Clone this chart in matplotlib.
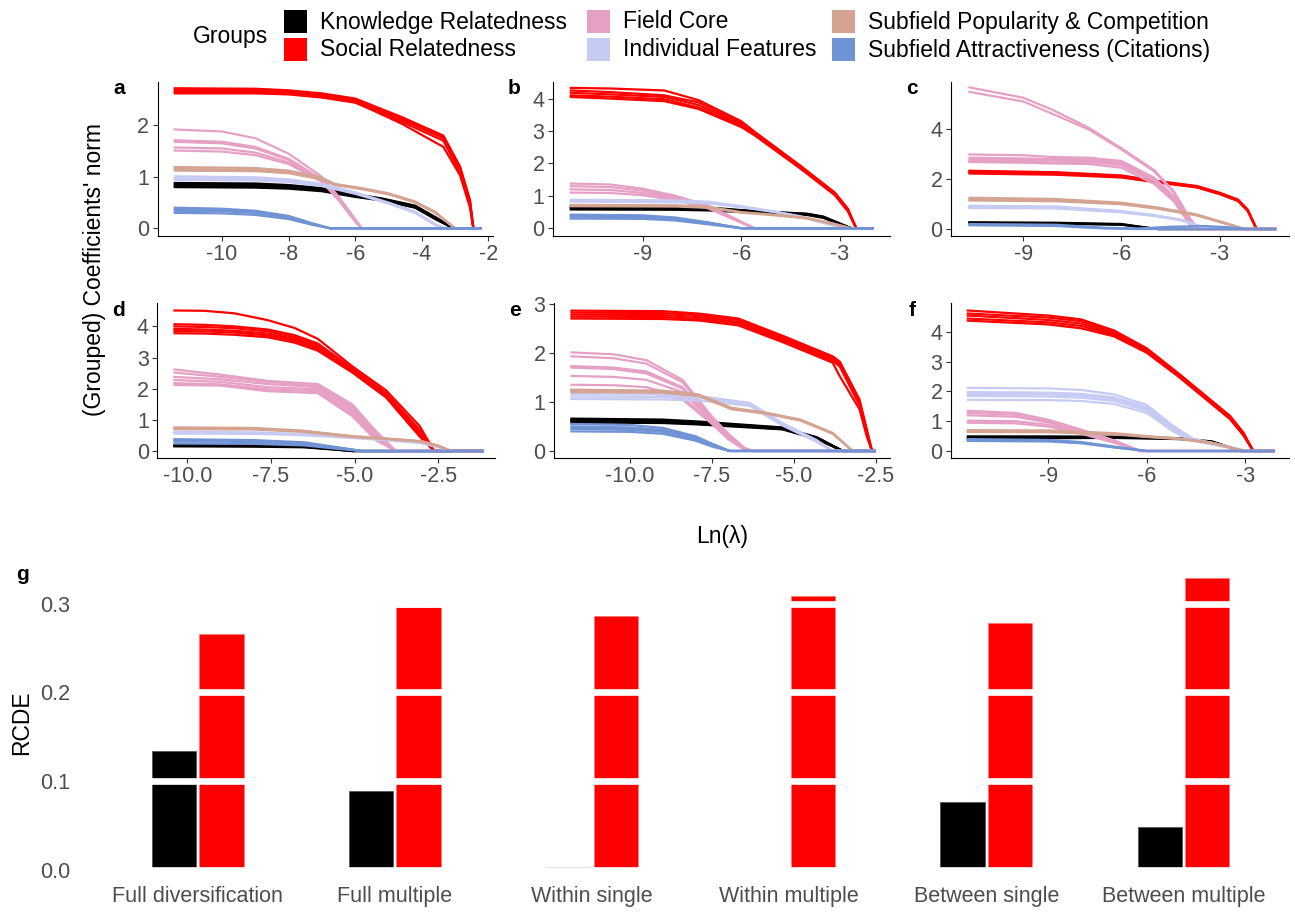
import matplotlib
matplotlib.use("Agg")
import matplotlib.pyplot as plt
from matplotlib.patches import Rectangle

plt.rcParams['font.family'] = ['Liberation Sans', 'DejaVu Sans']
plt.rcParams['axes.unicode_minus'] = False

# * ----- Groups / colours ----------------------------------------------------
GROUPS = ["Knowledge Relatedness", "Social Relatedness", "Field Core",
          "Individual Features", "Subfield Popularity & Competition",
          "Subfield Attractiveness (Citations)"]
COLORS = ["#000000", "#FF0000", "#E6A0C6", "#C6CBF3", "#D4A392", "#7093D6"]

# * ----- Lasso paths: (x knots, [y per line]) per panel and group -----------
# panel a
a_kr = ([-11.45, -9, -8, -7, -6, -5.2, -4.2, -3.6, -3.05, -2.2],
        [[0.88, 0.87, 0.84, 0.78, 0.66, 0.58, 0.44, 0.22, 0, 0],
         [0.85, 0.84, 0.82, 0.76, 0.64, 0.57, 0.43, 0.21, 0, 0],
         [0.82, 0.81, 0.79, 0.74, 0.62, 0.55, 0.41, 0.19, 0, 0],
         [0.80, 0.79, 0.77, 0.72, 0.61, 0.54, 0.40, 0.18, 0, 0]])
a_sr = ([-11.45, -9, -8, -7, -6, -4.6, -3.35, -2.85, -2.55, -2.45, -2.2],
        [[2.72, 2.71, 2.68, 2.62, 2.52, 2.16, 1.80, 1.20, 0.55, 0, 0],
         [2.69, 2.68, 2.66, 2.60, 2.50, 2.14, 1.78, 1.17, 0.52, 0, 0],
         [2.66, 2.65, 2.63, 2.57, 2.47, 2.11, 1.75, 1.13, 0.48, 0, 0],
         [2.62, 2.62, 2.60, 2.54, 2.44, 2.07, 1.70, 1.08, 0.45, 0, 0],
         [2.65, 2.64, 2.62, 2.55, 2.45, 2.03, 1.58, 1.03, 0.40, 0, 0]])
a_fc = ([-11.45, -10, -9, -8, -7, -6.5, -6.0, -5.8, -2.2],
        [[1.92, 1.88, 1.75, 1.45, 1.00, 0.62, 0.18, 0, 0],
         [1.71, 1.68, 1.58, 1.35, 0.95, 0.58, 0.15, 0, 0],
         [1.68, 1.65, 1.55, 1.33, 0.93, 0.57, 0.14, 0, 0],
         [1.57, 1.55, 1.47, 1.28, 0.92, 0.56, 0.14, 0, 0],
         [1.51, 1.49, 1.42, 1.25, 0.90, 0.55, 0.13, 0, 0]])
a_ind = ([-11.45, -9, -8, -7, -6, -5, -4.2, -3.6, -3.3, -2.2],
         [[1.01, 0.99, 0.95, 0.86, 0.70, 0.50, 0.32, 0.08, 0, 0],
          [0.97, 0.96, 0.92, 0.84, 0.68, 0.49, 0.31, 0.07, 0, 0],
          [0.94, 0.93, 0.90, 0.82, 0.67, 0.48, 0.30, 0.06, 0, 0]])
a_pop = ([-11.45, -9, -8, -7, -6.6, -5.8, -5, -4.2, -3.6, -3.0, -2.2],
         [[1.19, 1.17, 1.12, 0.98, 0.86, 0.78, 0.68, 0.52, 0.32, 0, 0],
          [1.15, 1.14, 1.10, 0.96, 0.85, 0.77, 0.67, 0.51, 0.31, 0, 0],
          [1.12, 1.11, 1.07, 0.95, 0.84, 0.76, 0.66, 0.50, 0.30, 0, 0]])
a_att = ([-11.45, -10, -9, -8, -7.3, -6.75, -2.2],
         [[0.40, 0.38, 0.34, 0.24, 0.10, 0, 0],
          [0.37, 0.35, 0.32, 0.22, 0.09, 0, 0],
          [0.34, 0.33, 0.30, 0.21, 0.08, 0, 0],
          [0.30, 0.29, 0.26, 0.18, 0.07, 0, 0]])

# panel b
b_kr = ([-11.23, -8, -7, -6, -5, -4, -3.5, -3, -2.65, -1.97],
        [[0.68, 0.67, 0.64, 0.56, 0.50, 0.45, 0.36, 0.15, 0, 0],
         [0.65, 0.64, 0.62, 0.55, 0.49, 0.44, 0.35, 0.14, 0, 0],
         [0.62, 0.61, 0.59, 0.53, 0.48, 0.43, 0.34, 0.13, 0, 0],
         [0.58, 0.57, 0.55, 0.50, 0.46, 0.41, 0.32, 0.12, 0, 0]])
b_sr = ([-11.23, -10, -8.35, -7.3, -6, -5.6, -4.2, -3.15, -2.75, -2.5, -1.97],
        [[4.33, 4.31, 4.25, 3.95, 3.30, 2.98, 1.93, 1.10, 0.60, 0, 0],
         [4.25, 4.20, 4.10, 3.88, 3.25, 2.95, 1.91, 1.08, 0.57, 0, 0],
         [4.18, 4.13, 4.05, 3.80, 3.20, 2.92, 1.88, 1.06, 0.55, 0, 0],
         [4.10, 4.06, 3.98, 3.72, 3.15, 2.89, 1.86, 1.04, 0.53, 0, 0],
         [4.05, 4.00, 3.92, 3.68, 3.12, 2.87, 1.84, 1.02, 0.52, 0, 0]])
b_fc = ([-11.23, -10, -9, -8, -7, -6.3, -5.6, -1.97],
        [[1.38, 1.35, 1.22, 1.00, 0.70, 0.35, 0, 0],
         [1.30, 1.27, 1.16, 0.96, 0.67, 0.33, 0, 0],
         [1.20, 1.18, 1.09, 0.91, 0.64, 0.32, 0, 0],
         [1.10, 1.09, 1.02, 0.86, 0.61, 0.30, 0, 0]])
b_ind = ([-11.23, -8, -7, -6, -5, -4.2, -3.2, -2.85, -1.97],
         [[0.88, 0.86, 0.82, 0.68, 0.52, 0.37, 0.10, 0, 0],
          [0.85, 0.83, 0.80, 0.66, 0.51, 0.36, 0.09, 0, 0],
          [0.82, 0.80, 0.77, 0.65, 0.50, 0.35, 0.08, 0, 0]])
b_pop = ([-11.23, -8, -7, -6, -5, -4, -3.2, -2.65, -1.97],
         [[0.72, 0.71, 0.66, 0.50, 0.42, 0.32, 0.15, 0, 0],
          [0.68, 0.67, 0.63, 0.48, 0.40, 0.30, 0.13, 0, 0]])
b_att = ([-11.23, -9, -8, -7, -6.0, -1.97],
         [[0.42, 0.40, 0.33, 0.18, 0, 0],
          [0.39, 0.37, 0.31, 0.17, 0, 0],
          [0.36, 0.34, 0.28, 0.15, 0, 0],
          [0.30, 0.29, 0.24, 0.12, 0, 0]])

# panel c
c_kr = ([-10.67, -8, -6, -5.2, -4.88, -1.28],
        [[0.27, 0.25, 0.20, 0.05, 0, 0],
         [0.24, 0.23, 0.18, 0.04, 0, 0],
         [0.22, 0.21, 0.17, 0.04, 0, 0]])
c_sr = ([-10.67, -8, -6, -4.9, -3.7, -3.0, -2.45, -2.15, -1.88, -1.28],
        [[2.33, 2.27, 2.14, 1.92, 1.72, 1.45, 1.18, 0.78, 0, 0],
         [2.30, 2.25, 2.12, 1.90, 1.70, 1.43, 1.16, 0.76, 0, 0],
         [2.26, 2.21, 2.09, 1.88, 1.68, 1.41, 1.14, 0.74, 0, 0],
         [2.22, 2.17, 2.06, 1.86, 1.66, 1.39, 1.12, 0.72, 0, 0]])
c_fc = ([-10.67, -9, -8.13, -7, -6, -5, -4.4, -3.9, -3.66, -1.28],
        [[5.67, 5.25, 4.78, 4.05, 3.23, 2.35, 1.50, 0.40, 0, 0],
         [5.49, 5.10, 4.62, 3.98, 3.18, 2.30, 1.45, 0.35, 0, 0],
         [2.98, 2.95, 2.88, 2.85, 2.72, 2.05, 1.30, 0.25, 0, 0],
         [2.85, 2.82, 2.80, 2.78, 2.66, 2.00, 1.25, 0.22, 0, 0],
         [2.78, 2.76, 2.74, 2.73, 2.60, 1.95, 1.20, 0.20, 0, 0],
         [2.72, 2.70, 2.66, 2.68, 2.55, 1.90, 1.15, 0.18, 0, 0],
         [2.68, 2.65, 2.62, 2.60, 2.45, 1.80, 1.10, 0.15, 0, 0]])
c_ind = ([-10.67, -8, -6, -5, -4.2, -3.6, -3.15, -1.28],
         [[0.93, 0.90, 0.72, 0.55, 0.38, 0.12, 0, 0],
          [0.88, 0.86, 0.70, 0.54, 0.37, 0.11, 0, 0],
          [0.84, 0.82, 0.67, 0.52, 0.35, 0.10, 0, 0]])
c_pop = ([-10.67, -8, -6, -4.9, -3.7, -2.85, -2.24, -1.28],
         [[1.25, 1.20, 1.05, 0.86, 0.58, 0.25, 0, 0],
          [1.19, 1.15, 1.02, 0.83, 0.56, 0.23, 0, 0],
          [1.14, 1.11, 0.99, 0.81, 0.54, 0.22, 0, 0]])
c_att = ([-10.67, -8, -6.5, -5.5, -4.5, -3.5, -2.6, -2.2, -1.28],
         [[0.20, 0.17, 0.05, 0.02, 0.09, 0.12, 0.06, 0, 0],
          [0.15, 0.12, 0.02, 0, 0, 0, 0, 0, 0]])

# panel d
d_kr = ([-10.42, -8, -6.5, -5.5, -5.07, -1.14],
        [[0.20, 0.19, 0.15, 0.05, 0, 0],
         [0.17, 0.16, 0.13, 0.04, 0, 0],
         [0.15, 0.14, 0.12, 0.04, 0, 0]])
d_sr = ([-10.42, -9.5, -8.6, -7.6, -6.8, -6.1, -5.07, -4.06, -3.05, -2.62, -1.14],
        [[4.51, 4.50, 4.42, 4.20, 3.95, 3.60, 2.72, 1.95, 0.80, 0, 0],
         [4.07, 4.05, 4.00, 3.90, 3.72, 3.45, 2.66, 1.86, 0.68, 0, 0],
         [4.00, 3.98, 3.94, 3.84, 3.66, 3.40, 2.62, 1.82, 0.62, 0, 0],
         [3.92, 3.90, 3.86, 3.77, 3.60, 3.34, 2.58, 1.78, 0.55, 0, 0],
         [3.85, 3.84, 3.80, 3.71, 3.54, 3.28, 2.55, 1.75, 0.50, 0, 0],
         [3.78, 3.77, 3.73, 3.65, 3.48, 3.22, 2.52, 1.72, 0.46, 0, 0]])
d_fc = ([-10.42, -9, -7.6, -6.1, -5.07, -4.37, -3.76, -1.14],
        [[2.62, 2.45, 2.25, 2.15, 1.50, 0.65, 0, 0],
         [2.52, 2.38, 2.22, 2.10, 1.42, 0.58, 0, 0],
         [2.38, 2.30, 2.15, 2.05, 1.35, 0.52, 0, 0],
         [2.28, 2.22, 2.05, 1.98, 1.28, 0.46, 0, 0],
         [2.18, 2.14, 1.98, 1.92, 1.20, 0.40, 0, 0],
         [2.12, 2.10, 1.92, 1.86, 1.12, 0.35, 0, 0]])
d_ind = ([-10.42, -8, -6.6, -5.07, -4, -3.0, -2.5, -2.1, -1.14],
         [[0.62, 0.60, 0.55, 0.45, 0.37, 0.28, 0.14, 0, 0],
          [0.56, 0.55, 0.51, 0.42, 0.34, 0.25, 0.12, 0, 0]])
d_pop = ([-10.42, -8, -6.6, -5.07, -4, -3.0, -2.5, -2.1, -1.14],
         [[0.76, 0.74, 0.66, 0.48, 0.40, 0.32, 0.18, 0, 0],
          [0.73, 0.71, 0.64, 0.47, 0.39, 0.31, 0.17, 0, 0],
          [0.70, 0.69, 0.62, 0.45, 0.38, 0.30, 0.16, 0, 0]])
d_att = ([-10.42, -8, -6.5, -5.5, -4.77, -1.14],
         [[0.38, 0.35, 0.28, 0.12, 0, 0],
          [0.34, 0.32, 0.25, 0.11, 0, 0],
          [0.31, 0.29, 0.23, 0.10, 0, 0],
          [0.24, 0.23, 0.18, 0.07, 0, 0]])

# panel e
e_kr = ([-11.82, -9, -7.9, -5.35, -4.3, -3.51, -2.5],
        [[0.66, 0.64, 0.60, 0.48, 0.28, 0, 0],
         [0.64, 0.62, 0.58, 0.47, 0.27, 0, 0],
         [0.62, 0.61, 0.57, 0.46, 0.26, 0, 0],
         [0.60, 0.59, 0.55, 0.45, 0.25, 0, 0],
         [0.58, 0.57, 0.54, 0.44, 0.24, 0, 0]])
e_sr = ([-11.82, -9, -7.9, -6.7, -5.35, -3.82, -3.6, -3.0, -2.78, -2.62, -2.5],
        [[2.86, 2.85, 2.80, 2.70, 2.35, 1.93, 1.82, 1.05, 0.45, 0, 0],
         [2.82, 2.81, 2.77, 2.67, 2.31, 1.90, 1.78, 1.00, 0.42, 0, 0],
         [2.78, 2.77, 2.73, 2.63, 2.28, 1.87, 1.75, 0.96, 0.38, 0, 0],
         [2.74, 2.73, 2.69, 2.60, 2.25, 1.84, 1.72, 0.93, 0.35, 0, 0],
         [2.70, 2.69, 2.66, 2.56, 2.22, 1.80, 1.52, 0.85, 0.30, 0, 0]])
e_fc = ([-11.82, -10.5, -9.5, -8.4, -7.5, -7.0, -6.5, -6.25, -2.5],
        [[2.01, 1.97, 1.85, 1.45, 0.70, 0.35, 0.06, 0, 0],
         [1.93, 1.89, 1.78, 1.40, 0.68, 0.33, 0.05, 0, 0],
         [1.73, 1.70, 1.62, 1.30, 0.64, 0.30, 0.04, 0, 0],
         [1.70, 1.67, 1.58, 1.27, 0.62, 0.29, 0.04, 0, 0],
         [1.53, 1.51, 1.45, 1.20, 0.60, 0.27, 0.03, 0, 0],
         [1.35, 1.34, 1.30, 1.10, 0.57, 0.25, 0.03, 0, 0],
         [1.24, 1.23, 1.20, 1.05, 0.55, 0.24, 0.02, 0, 0]])
e_ind = ([-11.82, -9, -7.9, -6.35, -5.35, -4.3, -3.82, -2.5],
         [[1.16, 1.15, 1.12, 0.98, 0.57, 0.22, 0, 0],
          [1.11, 1.10, 1.08, 0.95, 0.54, 0.20, 0, 0],
          [1.06, 1.05, 1.03, 0.92, 0.52, 0.18, 0, 0]])
e_pop = ([-11.82, -9, -7.9, -6.9, -5.85, -4.8, -3.82, -3.21, -2.5],
         [[1.25, 1.23, 1.15, 0.88, 0.78, 0.64, 0.37, 0, 0],
          [1.22, 1.21, 1.13, 0.86, 0.77, 0.63, 0.36, 0, 0],
          [1.20, 1.19, 1.12, 0.85, 0.76, 0.62, 0.35, 0, 0]])
e_att = ([-11.82, -10, -9, -8, -7.5, -6.96, -2.5],
         [[0.55, 0.53, 0.47, 0.30, 0.15, 0, 0],
          [0.50, 0.48, 0.43, 0.27, 0.13, 0, 0],
          [0.47, 0.45, 0.41, 0.25, 0.12, 0, 0],
          [0.45, 0.43, 0.39, 0.24, 0.11, 0, 0],
          [0.40, 0.39, 0.35, 0.21, 0.09, 0, 0]])

# panel f
f_kr = ([-11.49, -9, -7, -5, -4, -3.15, -2.09],
        [[0.49, 0.49, 0.48, 0.43, 0.32, 0, 0],
         [0.45, 0.46, 0.46, 0.41, 0.31, 0, 0],
         [0.42, 0.43, 0.44, 0.40, 0.30, 0, 0]])
f_sr = ([-11.49, -9, -8.0, -7.0, -6.0, -5.0, -3.46, -3.05, -2.75, -2.09],
        [[4.72, 4.55, 4.42, 4.05, 3.45, 2.58, 1.18, 0.62, 0, 0],
         [4.62, 4.48, 4.36, 4.00, 3.40, 2.55, 1.15, 0.59, 0, 0],
         [4.55, 4.40, 4.28, 3.95, 3.36, 2.52, 1.12, 0.57, 0, 0],
         [4.45, 4.32, 4.20, 3.90, 3.33, 2.50, 1.10, 0.55, 0, 0],
         [4.38, 4.25, 4.12, 3.85, 3.30, 2.47, 1.07, 0.52, 0, 0]])
f_fc = ([-11.49, -10, -9, -8, -7, -6.2, -2.09],
        [[1.35, 1.28, 1.05, 0.72, 0.36, 0, 0],
         [1.28, 1.22, 1.00, 0.69, 0.34, 0, 0],
         [1.20, 1.15, 0.96, 0.66, 0.32, 0, 0],
         [1.02, 1.00, 0.88, 0.62, 0.30, 0, 0],
         [0.95, 0.93, 0.82, 0.58, 0.28, 0, 0]])
f_ind = ([-11.49, -9, -8, -7, -6, -5.2, -4.6, -3.5, -2.95, -2.09],
         [[2.12, 2.10, 2.05, 1.90, 1.55, 0.85, 0.42, 0.15, 0, 0],
          [1.98, 1.96, 1.92, 1.80, 1.48, 0.80, 0.40, 0.14, 0, 0],
          [1.92, 1.90, 1.86, 1.74, 1.42, 0.76, 0.38, 0.13, 0, 0],
          [1.85, 1.83, 1.79, 1.68, 1.36, 0.72, 0.36, 0.12, 0, 0],
          [1.72, 1.71, 1.68, 1.58, 1.28, 0.66, 0.34, 0.11, 0, 0]])
f_pop = ([-11.49, -9, -7, -6, -5, -4, -3.05, -2.09],
         [[0.70, 0.69, 0.60, 0.50, 0.42, 0.28, 0, 0],
          [0.67, 0.66, 0.58, 0.48, 0.41, 0.27, 0, 0],
          [0.64, 0.63, 0.56, 0.47, 0.40, 0.26, 0, 0]])
f_att = ([-11.49, -9, -8, -7, -6.0, -2.09],
         [[0.40, 0.37, 0.30, 0.15, 0, 0],
          [0.37, 0.35, 0.28, 0.13, 0, 0],
          [0.34, 0.32, 0.26, 0.12, 0, 0]])

# * ----- RCDE bars -----------------------------------------------------------
bar_labels = ["Full diversification", "Full multiple", "Within single",
              "Within multiple", "Between single", "Between multiple"]
rcde_knowledge = [0.1346, 0.089, 0.004, 0.0, 0.0773, 0.0485]
rcde_social = [0.2654, 0.2957, 0.286, 0.308, 0.2784, 0.3283]

# * ----- Layout (pixel boxes) ------------------------------------------------
W, H = 1295, 913
fig = plt.figure(figsize=(W / 100, H / 100), dpi=100)


def add_ax(l, t, r, b):
    return fig.add_axes([l / W, 1 - b / H, (r - l) / W, (b - t) / H])


panels = [
    ('a', (a_kr, a_sr, a_fc, a_ind, a_pop, a_att), (157.7, 81.7, 493, 235.7),
     (-11.93, -1.86), (-0.144, 2.847), [-10, -8, -6, -4, -2], None, [0, 1, 2]),
    ('b', (b_kr, b_sr, b_fc, b_ind, b_pop, b_att), (553, 81.7, 890, 235.7),
     (-11.74, -1.47), (-0.229, 4.52), [-9, -6, -3], None, [0, 1, 2, 3, 4]),
    ('c', (c_kr, c_sr, c_fc, c_ind, c_pop, c_att), (951, 81.7, 1289, 235.7),
     (-11.2, -0.89), (-0.268, 5.89), [-9, -6, -3], None, [0, 2, 4]),
    ('d', (d_kr, d_sr, d_fc, d_ind, d_pop, d_att), (157.3, 303.3, 495, 457.7),
     (-10.9, -0.8), (-0.214, 4.74), [-10, -7.5, -5, -2.5],
     ['-10.0', '-7.5', '-5.0', '-2.5'], [0, 1, 2, 3, 4]),
    ('e', (e_kr, e_sr, e_fc, e_ind, e_pop, e_att), (554, 303.3, 890, 457.7),
     (-12.32, -2.07), (-0.137, 3.01), [-10, -7.5, -5, -2.5],
     ['-10.0', '-7.5', '-5.0', '-2.5'], [0, 1, 2, 3]),
    ('f', (f_kr, f_sr, f_fc, f_ind, f_pop, f_att), (951, 303.3, 1289, 457.7),
     (-11.97, -1.66), (-0.225, 4.96), [-9, -6, -3], None, [0, 1, 2, 3, 4]),
]

TICK_GRAY = '#4D4D4D'

for tag, groups, box, xlim, ylim, xt, xtl, yt in panels:
    ax = add_ax(*box)
    for (xs, lines), col in zip(groups, COLORS):
        for ys in lines:
            ax.plot(xs, ys, color=col, lw=1.6, solid_capstyle='butt',
                    solid_joinstyle='round')
    ax.set_xlim(*xlim)
    ax.set_ylim(*ylim)
    ax.set_xticks(xt)
    if xtl:
        ax.set_xticklabels(xtl)
    ax.set_yticks(yt)
    for s in ('top', 'right'):
        ax.spines[s].set_visible(False)
    for s in ('left', 'bottom'):
        ax.spines[s].set_linewidth(0.8)
    ax.tick_params(length=3.6, width=0.8, color='#333333', labelsize=15.5,
                   labelcolor=TICK_GRAY, pad=2.5)
    fig.text((box[0] - 39) / W, 1 - (box[1] + 7) / H, tag, fontsize=15,
             fontweight='bold', ha='center', va='center')

# axis titles for lasso panels
fig.text(95 / W, 1 - 270 / H, "(Grouped) Coefficients' norm", rotation=90,
         fontsize=16.5, ha='center', va='center')
fig.text(722 / W, 1 - 537 / H, "Ln(\u03bb)", fontsize=16.5, ha='center', va='center')

# * ----- Bar panel g ---------------------------------------------------------
axg = add_ax(80, 563.5, 1290, 885)
pos = list(range(1, len(bar_labels) + 1))
axg.bar([p - 0.12 for p in pos], rcde_knowledge, width=0.225, color=COLORS[0],
        edgecolor='#555555', linewidth=0.6, zorder=2)
axg.bar([p + 0.12 for p in pos], rcde_social, width=0.225, color=COLORS[1],
        edgecolor='#FF7070', linewidth=0.4, zorder=2)
for yv in (0.0, 0.1, 0.2, 0.3):
    axg.axhline(yv, color='white', lw=4.8, zorder=3)
axg.set_xlim(0.402, 6.541)
axg.set_ylim(-0.0164, 0.345)
axg.set_xticks(pos)
axg.set_xticklabels(bar_labels)
axg.set_yticks([0.0, 0.1, 0.2, 0.3])
axg.set_yticklabels(['0.0', '0.1', '0.2', '0.3'])
for s in axg.spines.values():
    s.set_visible(False)
axg.tick_params(length=0, labelsize=15.5, labelcolor=TICK_GRAY)
axg.tick_params(axis='y', pad=7)
axg.tick_params(axis='x', pad=1)
fig.text(22 / W, 1 - 723 / H, "RCDE", rotation=90, fontsize=16.5,
         ha='center', va='center')
fig.text(22 / W, 1 - 574 / H, 'g', fontsize=15, fontweight='bold',
         ha='center', va='center')

# * ----- Legend (manual, ggplot-style) --------------------------------------
fig.text(231 / W, 1 - 37 / H, "Groups", fontsize=16.5, ha='center', va='center')
col_x = [284, 587, 832]
row_y = [22, 50]
sq = 23
for i, (name, col) in enumerate(zip(GROUPS, COLORS)):
    cx = col_x[i // 2]
    cy = row_y[i % 2]
    fig.patches.append(Rectangle((cx / W, 1 - (cy + sq / 2) / H), sq / W, sq / H,
                                 transform=fig.transFigure, facecolor=col,
                                 edgecolor='none'))
    fig.text((cx + sq + 13) / W, 1 - cy / H, name, fontsize=16.5,
             ha='left', va='center')

fig.savefig("out.png", dpi=100)
